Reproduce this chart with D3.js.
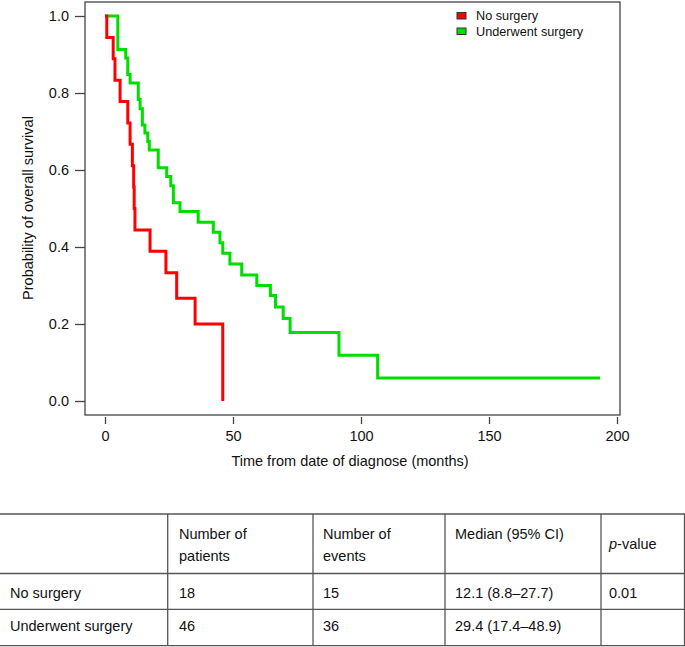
<!DOCTYPE html>
<html>
<head>
<meta charset="utf-8">
<script src="https://cdn.jsdelivr.net/npm/d3@7"></script>
<style>
  body { margin: 0; background: #fff; }
  svg { display: block; font-family: "Liberation Sans", Arial, sans-serif; }
</style>
</head>
<body>
<svg id="chart" width="685" height="647"></svg>
<script>
// Kaplan-Meier step points (months, survival)
const noSurgeryTime = [0, 0.7, 3.2, 3.9, 5.9, 8.9, 9.8, 10.7, 11.2, 11.4, 11.7, 17.6, 23.8, 28.0, 35.2, 46.0];
const noSurgerySurv = [1.0, 0.944, 0.889, 0.833, 0.778, 0.722, 0.667, 0.611, 0.556, 0.5, 0.444, 0.389, 0.333, 0.267, 0.2, 0.0];

const surgeryTime = [0, 5.0, 8.1, 8.9, 9.8, 13.0, 13.7, 14.6, 15.6, 16.7, 17.3, 20.8, 24.1, 25.7, 26.7, 29.3,
  36.4, 42.3, 44.9, 46.0, 48.8, 53.4, 59.3, 64.6, 66.6, 69.6, 72.3, 91.4, 106.5, 193.4];
const surgerySurv = [1.0, 0.913, 0.891, 0.848, 0.826, 0.783, 0.759, 0.717, 0.696, 0.674, 0.652, 0.606, 0.583, 0.559, 0.515, 0.492,
  0.464, 0.438, 0.411, 0.384, 0.356, 0.327, 0.300, 0.274, 0.244, 0.214, 0.178, 0.119, 0.06, 0.06];

const seriesNames = ["No surgery", "Underwent surgery"];
const seriesColors = ["#ff0000", "#00dd00"];

const xTicks = [0, 50, 100, 150, 200];
const yTicks = [0, 0.2, 0.4, 0.6, 0.8, 1.0];

const tableHeader = [["", ""], ["Number of", "patients"], ["Number of", "events"], ["Median (95% CI)", ""], ["p-value"]];
const tableRows = [
  ["No surgery", "18", "15", "12.1 (8.8\u201327.7)", "0.01"],
  ["Underwent surgery", "46", "36", "29.4 (17.4\u201348.9)", ""]
];

const svg = d3.select("#chart");
const box = {left: 85, right: 620, top: 2, bottom: 415};
const fs = 14.5;

const x = d3.scaleLinear().domain([0, 200]).range([105, 617]);
const y = d3.scaleLinear().domain([0, 1]).range([401, 16]);
const axisCol = "#444";

// plot frame
svg.append("rect")
  .attr("x", box.left).attr("y", box.top)
  .attr("width", box.right - box.left).attr("height", box.bottom - box.top)
  .attr("fill", "none").attr("stroke", axisCol).attr("stroke-width", 1.3);

// y axis
const yAxis = svg.append("g")
  .attr("transform", `translate(${box.left},0)`)
  .call(d3.axisLeft(y).tickValues(yTicks).tickFormat(d3.format(".1f")).tickSize(10).tickPadding(6));
yAxis.select(".domain").remove();
yAxis.selectAll("line").attr("stroke", axisCol).attr("stroke-width", 1.3);
yAxis.selectAll("text").attr("font-size", fs).attr("fill", "#111").attr("font-family", "Liberation Sans, Arial, sans-serif");

// x axis (ticks detached from the frame)
const xAxis = svg.append("g")
  .attr("transform", "translate(0,417)")
  .call(d3.axisBottom(x).tickValues(xTicks).tickSize(7).tickPadding(7));
xAxis.select(".domain").remove();
xAxis.selectAll("line").attr("stroke", axisCol).attr("stroke-width", 1.3);
xAxis.selectAll("text").attr("font-size", fs).attr("fill", "#111").attr("font-family", "Liberation Sans, Arial, sans-serif");

svg.append("text")
  .attr("x", 350).attr("y", 466)
  .attr("text-anchor", "middle").attr("font-size", fs).attr("fill", "#111")
  .text("Time from date of diagnose (months)");

svg.append("text")
  .attr("transform", "translate(33,208) rotate(-90)")
  .attr("text-anchor", "middle").attr("font-size", fs).attr("fill", "#111")
  .text("Probability of overall survival");

// survival curves
const line = d3.line()
  .x(d => x(d[0]))
  .y(d => y(d[1]))
  .curve(d3.curveStepAfter);

const curves = [
  d3.zip(noSurgeryTime, noSurgerySurv),
  d3.zip(surgeryTime, surgerySurv)
];

// draw surgery first so red sits on top at the start
[1, 0].forEach(i => {
  svg.append("path")
    .datum(curves[i])
    .attr("d", line)
    .attr("fill", "none")
    .attr("stroke", seriesColors[i])
    .attr("stroke-width", 3);
});

// legend
const legend = svg.append("g").attr("transform", "translate(457,11)");
seriesNames.forEach((name, i) => {
  const g = legend.append("g").attr("transform", `translate(0,${i * 15.5})`);
  g.append("rect").attr("x", 0).attr("y", 1.5).attr("width", 9).attr("height", 6.5)
    .attr("fill", seriesColors[i]).attr("stroke", "#333").attr("stroke-width", 1);
  g.append("text").attr("x", 19).attr("y", 5).attr("dy", "0.35em")
    .attr("font-size", 12.7).attr("fill", "#111").text(name);
});

// results table
const colLines = [167.7, 313, 445, 601, 684.5];
const colText = [10, 179, 323, 455, 609];
const rowLines = [514, 573.5, 609.3, 645.7];
const lineCol = "#555";

const table = svg.append("g");
rowLines.forEach(ry => {
  table.append("line").attr("x1", 0).attr("x2", 685).attr("y1", ry).attr("y2", ry)
    .attr("stroke", lineCol).attr("stroke-width", 1.3);
});
colLines.forEach(cx => {
  table.append("line").attr("x1", cx).attr("x2", cx).attr("y1", rowLines[0]).attr("y2", rowLines[3])
    .attr("stroke", lineCol).attr("stroke-width", 1.3);
});

tableHeader.forEach((lines, c) => {
  if (c === 4) {
    const t = table.append("text").attr("x", colText[c]).attr("y", 543.5).attr("dy", "0.35em")
      .attr("font-size", fs).attr("fill", "#111");
    t.append("tspan").attr("font-style", "italic").text("p");
    t.append("tspan").text("-value");
    return;
  }
  lines.forEach((s, k) => {
    if (!s) return;
    table.append("text").attr("x", colText[c]).attr("y", 534 + k * 21.5).attr("dy", "0.35em")
      .attr("font-size", fs).attr("fill", "#111").text(s);
  });
});

const rowCenters = [593, 626];
tableRows.forEach((row, r) => {
  row.forEach((s, c) => {
    table.append("text").attr("x", colText[c]).attr("y", rowCenters[r]).attr("dy", "0.35em")
      .attr("font-size", fs).attr("fill", "#111").text(s);
  });
});
</script>
</body>
</html>
